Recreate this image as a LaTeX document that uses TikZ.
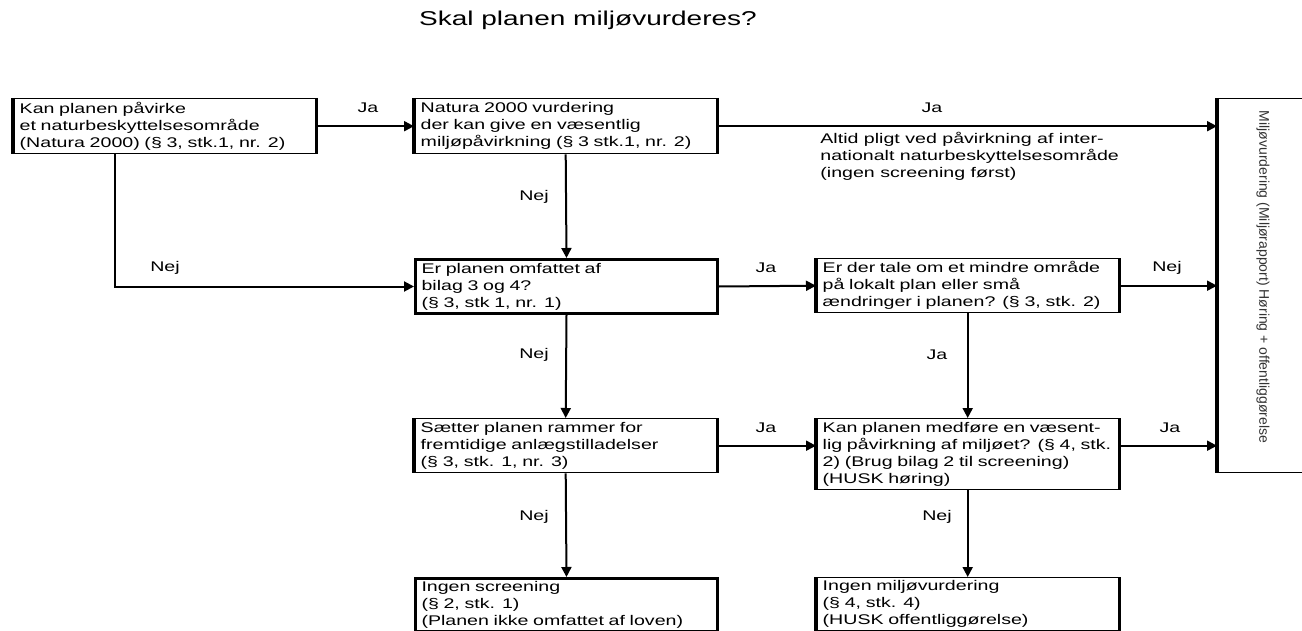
\documentclass[tikz,border=0pt]{standalone}
\usepackage{fontspec}
\setmainfont[FakeStretch=1.4]{Liberation Sans}
\newfontfamily\plainfont{Liberation Sans}
\usetikzlibrary{arrows.meta,calc}
\begin{document}
\begin{tikzpicture}[x=0.5pt,y=-0.5pt,
  font=\fontsize{7}{8.5}\selectfont,
  box/.style={draw,line width=0.7pt,anchor=north west,inner xsep=3pt,inner ysep=0pt,
    minimum width=151pt,text width=145pt,align=left},
  boxthick/.style={box,line width=1.5pt},
  lbl/.style={inner sep=0pt},
  conn/.style={line width=1pt,-{Triangle[length=5pt,width=5pt]}},
  side/.style={line width=1.8pt}]
\useasboundingbox (0,0) rectangle (1302,631);
\node[font=\fontsize{10}{12}\selectfont] (title) at (588,20) {Skal planen miljøvurderes?};
\node[box,minimum height=27.5pt] (b1) at (13,98) {Kan planen påvirke\\et naturbeskyttelsesområde\\(Natura 2000) (§ 3, stk.1, nr. 2)};
\node[box,minimum height=27.5pt] (b2) at (414,98) {Natura 2000 vurdering\\der kan give en væsentlig\\miljøpåvirkning (§ 3 stk.1, nr. 2)};
\node[boxthick,minimum height=27pt] (b3) at (414,258) {Er planen omfattet af\\bilag 3 og 4?\\(§ 3, stk 1, nr. 1)};
\node[box,minimum height=27pt] (b4) at (816,258) {Er der tale om et mindre område\\på lokalt plan eller små\\ændringer i planen? (§ 3, stk. 2)};
\node[box,minimum height=27pt] (b5) at (414,418) {Sætter planen rammer for\\fremtidige anlægstilladelser\\(§ 3, stk. 1, nr. 3)};
\node[box,minimum height=35.5pt] (b6) at (816,418) {Kan planen medføre en væsent-\\lig påvirkning af miljøet? (§ 4, stk.\\2) (Brug bilag 2 til screening)\\(HUSK høring)};
\node[boxthick,minimum height=26.5pt] (b7) at (414,577) {Ingen screening\\(§ 2, stk. 1)\\(Planen ikke omfattet af loven)};
\node[box,minimum height=26.5pt] (b8) at (816,577) {Ingen miljøvurdering\\(§ 4, stk. 4)\\(HUSK offentliggørelse)};
\node[draw,line width=0.7pt,anchor=north west,minimum width=55pt,minimum height=187pt,inner sep=0pt] (rb) at (1217,98) {};
\node[rotate=-90,lbl,text=black!80,font=\plainfont\fontsize{7}{8.5}\selectfont] (rbt) at (1263,277) {Miljøvurdering (Miljørapport) Høring + offentliggørelse};
\node[anchor=north west,inner sep=0pt,align=left] (note) at (820,132) {Altid pligt ved påvirkning af inter-\\nationalt naturbeskyttelsesområde\\(ingen screening først)};
\foreach \n in {b1,b2,b4,b5,b6,b8}
  \draw[side] (\n.north west) -- (\n.south west) (\n.north east) -- (\n.south east);
\draw[line width=2pt] (rb.north west) -- (rb.south west);
% connectors
\draw[conn] (b1.east) -- (b2.west);
\draw[conn] (b2.east) -- (b2.east -| rb.west);
\draw[conn] ([xshift=51pt]b1.south west) |- (b3.west);
\draw[conn] (b2.south) -- (b3.north);
\draw[conn] (b3.east) -- (b4.west);
\draw[conn] (b4.east) -- (b4.east -| rb.west);
\draw[conn] (b3.south) -- (b5.north);
\draw[conn] (b4.south) -- (b6.north);
\draw[conn] (b5.east) -- (b5.east -| b6.west);
\draw[conn] (b6.east |- b5.east) -- (rb.west |- b5.east);
\draw[conn] (b5.south) -- (b7.north);
\draw[conn] (b6.south) -- (b8.north);
% labels
\node[lbl] (l1) at (368,108) {Ja};
\node[lbl] (l2) at (932,108) {Ja};
\node[lbl] (l3) at (165,268) {Nej};
\node[lbl] (l4) at (534,197) {Nej};
\node[lbl] (l5) at (766,268) {Ja};
\node[lbl] (l6) at (1167,268) {Nej};
\node[lbl] (l7) at (534,355) {Nej};
\node[lbl] (l8) at (937,355) {Ja};
\node[lbl] (l9) at (766,428) {Ja};
\node[lbl] (l10) at (1170,428) {Ja};
\node[lbl] (l11) at (534,517) {Nej};
\node[lbl] (l12) at (937,517) {Nej};
\end{tikzpicture}
\end{document}
